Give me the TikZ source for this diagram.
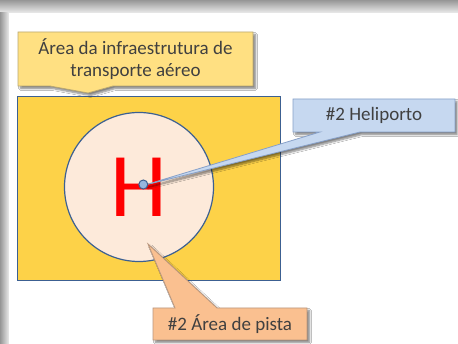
\documentclass[tikz,border=0pt]{standalone}
\usepackage{fontspec}
\setmainfont{Carlito}
\usetikzlibrary{shadows.blur}
\definecolor{pageshadow}{RGB}{150,150,150}
\definecolor{areafill}{RGB}{253,210,72}
\definecolor{areaborder}{RGB}{60,96,145}
\definecolor{circfill}{RGB}{253,234,218}
\definecolor{topfill}{RGB}{255,224,130}
\definecolor{topborder}{RGB}{185,168,115}
\definecolor{helifill}{RGB}{198,216,240}
\definecolor{heliborder}{RGB}{135,160,200}
\definecolor{pistafill}{RGB}{250,192,144}
\definecolor{pistaborder}{RGB}{185,150,125}
\definecolor{dotfill}{RGB}{150,182,222}
\definecolor{txt}{RGB}{64,64,64}
\definecolor{hred}{RGB}{255,0,0}
\begin{document}
\begin{tikzpicture}[x=1pt,y=-1pt,
  callout/.style={line width=0.8pt, line join=miter,
    blur shadow={shadow xshift=2.5pt, shadow yshift=-2.5pt, shadow blur steps=6, shadow opacity=50}},
  label/.style={text=txt, font=\fontsize{19}{22.5}\selectfont, align=center, inner sep=0pt}]
\useasboundingbox (0,0) rectangle (458,344);
% page shadow
\fill[white] (0,0) rectangle (458,344);
\shade[top color=pageshadow, bottom color=gray!15] (0,0) rectangle (458,13);
\shade[left color=pageshadow, right color=gray!15] (0,13) rectangle (9,344);
\fill[white] (9,13) rectangle (458,344);
% airport area
\draw[fill=areafill, draw=areaborder, line width=1pt] (17,97) rectangle (280,281);
\node (pista) [circle, draw=areaborder, fill=circfill, line width=1.2pt, minimum size=149pt, inner sep=0pt] at (139,187) {};
\node (H) [text=hred, font=\fontsize{91}{91}\selectfont, inner sep=0pt, anchor=base] at (139,217) {H};
% callout top
\draw[callout, fill=topfill, draw=topborder]
  (18,32) -- (253,32) -- (253,86) -- (113,86) -- (88,93) -- (50,86) -- (18,86) -- cycle;
\node (area) [label] at (135.5,59) {Área da infraestrutura de\\transporte aéreo};
% heliport dot
\coordinate (tipH) at (145,185);
\coordinate (tipP) at (148,244);
% heliport callout
\draw[callout, fill=helifill, draw=heliborder]
  (293,99) -- (455,99) -- (455,132) -- (360,132) -- (tipH) -- (320,132) -- (293,132) -- cycle;
\node (heli) [label] at (374,115.5) {\#2 Heliporto};
\node (dot) [circle, draw=areaborder, fill=dotfill, line width=1pt, minimum size=9pt, inner sep=0pt] at (143.3,184.5) {};
% pista callout
\draw[callout, fill=pistafill, draw=pistaborder]
  (153,308) -- (175,308) -- (tipP) -- (217,308) -- (307,308) -- (307,340) -- (153,340) -- cycle;
\node (pistalabel) [label] at (230,324) {\#2 Área de pista};
\end{tikzpicture}
\end{document}
